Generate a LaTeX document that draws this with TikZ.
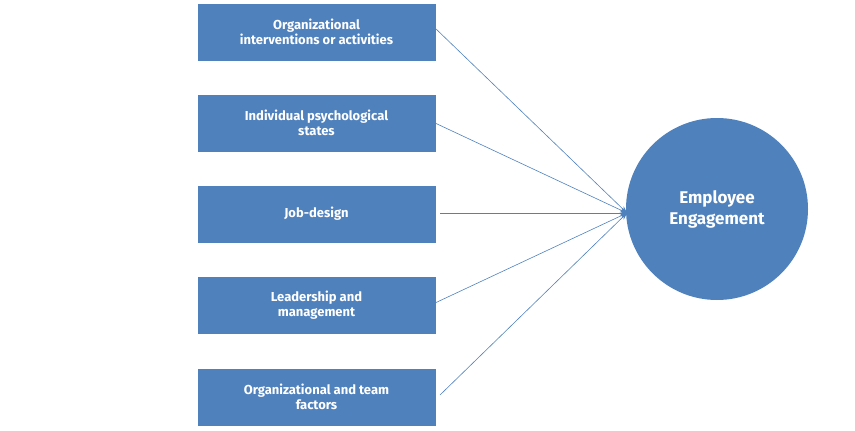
\documentclass[tikz,border=0pt]{standalone}
\usepackage{fontspec}
\setmainfont{Fira Sans}
\usetikzlibrary{arrows.meta}
\definecolor{bx}{HTML}{4F81BD}
\begin{document}
\begin{tikzpicture}[x=1pt,y=-1pt,
  box/.style={fill=bx,draw=bx,minimum width=237pt,minimum height=56pt,text=white,align=center,font=\fontsize{13}{15}\selectfont\bfseries,inner sep=0pt},
  conn/.style={draw=bx,line width=0.6pt,-{Stealth[length=7pt,width=5pt]}}]
\useasboundingbox (0,0) rectangle (855,431);
\node[box] (b1) at (316.5,32) {Organizational\\interventions or activities};
\node[box] (b2) at (316.5,123) {Individual psychological\\states};
\node[box] (b3) at (316.5,214) {Job-design};
\node[box] (b4) at (316.5,305.5) {Leadership and\\management};
\node[box] (b5) at (316.5,397) {Organizational and team\\factors};
\node[circle,fill=bx,minimum size=182pt,text=white,align=center,font=\fontsize{17}{21}\selectfont\bfseries] (e) at (717,209) {Employee\\Engagement};
\coordinate (t) at (627,213);
\coordinate (s1) at (435,28);
\coordinate (s2) at (435,123);
\coordinate (s3) at (440,213);
\coordinate (s4) at (435,303);
\coordinate (s5) at (440,395);
\foreach \i in {1,...,5} \draw[conn] (s\i) -- (t);
\end{tikzpicture}
\end{document}
